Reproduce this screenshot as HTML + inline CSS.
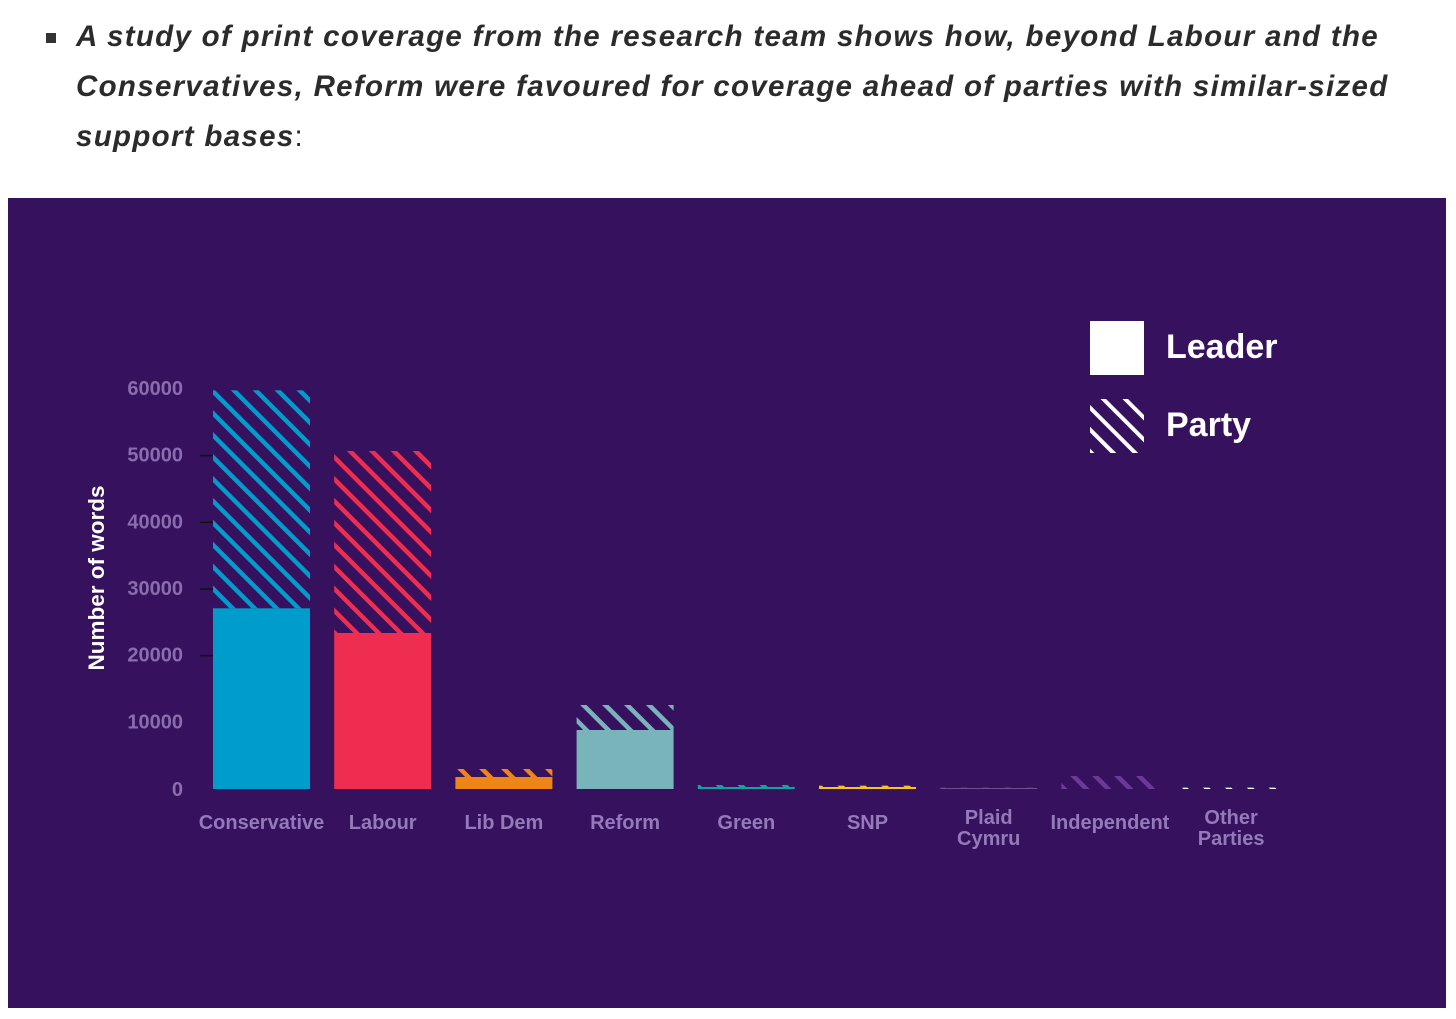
<!DOCTYPE html>
<html><head><meta charset="utf-8">
<style>
body{margin:0;width:1456px;height:1019px;background:#fff;overflow:hidden;position:relative;font-family:"Liberation Sans",sans-serif}
#intro{position:absolute;left:76px;top:12px;width:1320px;font-style:italic;font-weight:bold;font-size:29.5px;line-height:50px;color:#2b2b2b;letter-spacing:1.3px}
#bullet{position:absolute;left:46px;top:33px;width:10px;height:10px;background:#333}
#panel{position:absolute;left:8px;top:198px;width:1438px;height:810px;background:#35115e}
svg{position:absolute;left:0;top:0}
</style></head><body>
<div id="bullet"></div>
<div id="intro">A study of print coverage from the research team shows how, beyond Labour and the Conservatives, Reform were favoured for coverage ahead of parties with similar-sized support bases<span style="font-style:normal;font-weight:normal">:</span></div>
<div id="panel"></div>
<svg id="chart" width="1456" height="1019"></svg>
<script>
const categories=["Conservative","Labour","Lib Dem","Reform","Green","SNP","Plaid|Cymru","Independent","Other|Parties"];
const leaderValues=[27100,23400,1800,8850,300,300,150,0,0];
const partyValues=[32700,27300,1200,3750,300,200,50,1950,200];
const colors=["#009ccb","#ee2d50","#ee8517","#7ab4bb","#11a49a","#f5c518","#6c4f8c","#6b3a99","#ffffff"];
const yTicks=[0,10000,20000,30000,40000,50000,60000];
const NS="http://www.w3.org/2000/svg";
const svg=document.getElementById('chart');
function y(v){return 789-v/60000*400;}
function x(i){return 213+i*121.2;}
const bw=97;
function mk(t,a){const e=document.createElementNS(NS,t);for(const k in a)e.setAttribute(k,a[k]);return e;}
const defs=mk('defs',{});svg.appendChild(defs);
colors.forEach((c,i)=>{
  const p=mk('pattern',{id:'h'+i,width:15.5,height:15.5,patternUnits:'userSpaceOnUse',patternTransform:'translate('+x(i)+',0) rotate(-45)'});
  p.appendChild(mk('rect',{x:0,y:0,width:4.5,height:15.5,fill:c}));
  defs.appendChild(p);
});
const lp=mk('pattern',{id:'hl',width:15.5,height:15.5,patternUnits:'userSpaceOnUse',patternTransform:'rotate(-45)'});
lp.appendChild(mk('rect',{x:0,y:0,width:4,height:15.5,fill:'#fff'}));defs.appendChild(lp);
[20000,30000,40000,50000].forEach(v=>{
  const l=mk('line',{x1:200,x2:214,y1:y(v),y2:y(v),stroke:'#111','stroke-width':1.5});
  
  
  svg.appendChild(l);
});
yTicks.forEach(v=>{
  const t=mk('text',{x:183,y:y(v)+6+(v===0?1:0),'text-anchor':'end','font-size':20,'font-weight':'bold',fill:'#8b6cae','font-family':'Liberation Sans, sans-serif'});
  t.textContent=v;
  
  
  svg.appendChild(t);
});
const yt=mk('text',{x:0,y:0,transform:'translate(104,578) rotate(-90)','text-anchor':'middle','font-size':22.5,'font-weight':'bold',fill:'#fff','font-family':'Liberation Sans, sans-serif'});
yt.textContent='Number of words';


svg.appendChild(yt);
categories.forEach((c,i)=>{
  const l=leaderValues[i],p=partyValues[i];
  const pr=mk('rect',{x:x(i),y:y(l+p),width:bw,height:y(l)-y(l+p),fill:'url(#h'+i+')'});
  
  
  svg.appendChild(pr);
  const lr=mk('rect',{x:x(i),y:y(l),width:bw,height:y(0)-y(l),fill:colors[i]});
  
  
  svg.appendChild(lr);
  const lines=c.split('|');
  const t=mk('text',{x:x(i)+bw/2,y:lines.length>1?824:829,'text-anchor':'middle','font-size':20,'font-weight':'bold',fill:'#9579bb','font-family':'Liberation Sans, sans-serif'});
  lines.forEach((s,k)=>{const ts=mk('tspan',{x:x(i)+bw/2,dy:k?21:0});ts.textContent=s;t.appendChild(ts);});
  
  
  svg.appendChild(t);
});
const ls=mk('rect',{x:1090,y:321,width:54,height:54,fill:'#fff'});


svg.appendChild(ls);
const ph=mk('rect',{x:1090,y:399,width:54,height:54,fill:'url(#hl)'});


svg.appendChild(ph);
[['Leader',358],['Party',436]].forEach(([s,yy])=>{
  const t=mk('text',{x:1166,y:yy,'font-size':34,'font-weight':'bold',fill:'#fff','font-family':'Liberation Sans, sans-serif'});
  t.textContent=s;
  
  
  svg.appendChild(t);
});
</script>
</body></html>
